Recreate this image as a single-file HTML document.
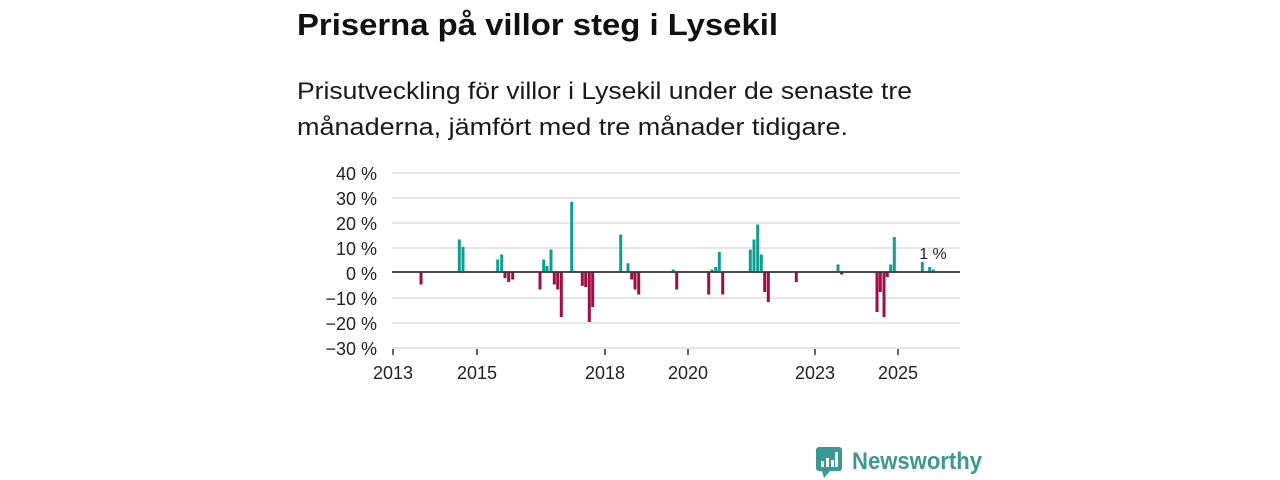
<!DOCTYPE html>
<html><head><meta charset="utf-8"><style>
html,body{margin:0;padding:0;background:#fff;width:1280px;height:480px;overflow:hidden}
svg{display:block}
text{font-family:"Liberation Sans",sans-serif}
</style></head><body>
<svg width="1280" height="480" viewBox="0 0 1280 480" xmlns="http://www.w3.org/2000/svg">
<text x="297" y="35" font-size="31" font-weight="bold" fill="#111" textLength="481" lengthAdjust="spacingAndGlyphs">Priserna på villor steg i Lysekil</text>
<text x="297" y="99" font-size="24" fill="#1a1a1a" textLength="615" lengthAdjust="spacingAndGlyphs">Prisutveckling för villor i Lysekil under de senaste tre</text>
<text x="297" y="135" font-size="24" fill="#1a1a1a" textLength="551" lengthAdjust="spacingAndGlyphs">månaderna, jämfört med tre månader tidigare.</text>
<g stroke="#dedede" stroke-width="1.5">
<line x1="392" x2="960" y1="173" y2="173"/><line x1="392" x2="960" y1="198" y2="198"/>
<line x1="392" x2="960" y1="223" y2="223"/><line x1="392" x2="960" y1="248" y2="248"/>
<line x1="392" x2="960" y1="298" y2="298"/><line x1="392" x2="960" y1="323" y2="323"/>
<line x1="392" x2="960" y1="348" y2="348"/>
</g>
<g font-size="18" fill="#222" text-anchor="end">
<text x="377" y="180">40 %</text><text x="377" y="205">30 %</text><text x="377" y="230">20 %</text>
<text x="377" y="255">10 %</text><text x="377" y="280">0 %</text><text x="377" y="305">−10 %</text>
<text x="377" y="330">−20 %</text><text x="377" y="355">−30 %</text>
</g>
<g id="bars"></g>
<line x1="392" x2="960" y1="272" y2="272" stroke="#333" stroke-width="1.5"/>
<g stroke="#333" stroke-width="1.5">
<line x1="393" x2="393" y1="349" y2="355"/><line x1="477" x2="477" y1="349" y2="355"/>
<line x1="605" x2="605" y1="349" y2="355"/><line x1="688" x2="688" y1="349" y2="355"/>
<line x1="815" x2="815" y1="349" y2="355"/><line x1="898" x2="898" y1="349" y2="355"/>
</g>
<g font-size="18" fill="#222" text-anchor="middle">
<text x="393" y="379">2013</text><text x="477" y="379">2015</text><text x="605" y="379">2018</text>
<text x="688" y="379">2020</text><text x="815" y="379">2023</text><text x="898" y="379">2025</text>
</g>
<text x="933" y="259" font-size="16" fill="#222" text-anchor="middle">1 %</text>
<g transform="translate(816,447)">
<rect x="0" y="0" width="26" height="24" rx="3" fill="#3a9a93"/>
<polygon points="6,24 14,24 8,31" fill="#3a9a93"/>
<rect x="5" y="14" width="3" height="6" fill="#fff"/><rect x="10" y="11" width="3" height="9" fill="#fff"/>
<rect x="15" y="13" width="3" height="7" fill="#fff"/><rect x="19" y="5" width="3" height="15" fill="#fff"/>
</g>
<text x="852" y="469" font-size="24" font-weight="bold" fill="#3a9a93" textLength="130" lengthAdjust="spacingAndGlyphs">Newsworthy</text>
<g>
<script>/*static*/</script>
</g>
<g fill="#0e9e92">
<rect x="457.8" y="239.5" width="3" height="32.5"/><rect x="461.5" y="247" width="3" height="25"/>
<rect x="496.2" y="259.5" width="3" height="12.5"/><rect x="500.2" y="254.5" width="3" height="17.5"/>
<rect x="542.2" y="259.5" width="3" height="12.5"/><rect x="545.5" y="265.8" width="3" height="6.2"/>
<rect x="549.5" y="249.5" width="3" height="22.5"/><rect x="570.2" y="202" width="3" height="70"/>
<rect x="619.2" y="234.5" width="3" height="37.5"/><rect x="626.5" y="263.2" width="3" height="8.8"/>
<rect x="671.8" y="269.5" width="3" height="2.5"/><rect x="710.5" y="269.5" width="3" height="2.5"/>
<rect x="714.2" y="267" width="3" height="5"/><rect x="717.8" y="252" width="3" height="20"/>
<rect x="748.8" y="249.5" width="3" height="22.5"/><rect x="752.5" y="239.5" width="3" height="32.5"/>
<rect x="756.2" y="224.5" width="3" height="47.5"/><rect x="759.8" y="254.5" width="3" height="17.5"/>
<rect x="836.5" y="264.5" width="3" height="7.5"/><rect x="889.2" y="264.5" width="3" height="7.5"/>
<rect x="892.8" y="237" width="3" height="35"/><rect x="920.8" y="262" width="3" height="10"/>
<rect x="928.2" y="267" width="3" height="5"/><rect x="931.8" y="269.5" width="3" height="2.5"/>
</g>
<g fill="#a10d45">
<rect x="419.5" y="272" width="3" height="12.5"/><rect x="503.5" y="272" width="3" height="6.2"/>
<rect x="507.2" y="272" width="3" height="10"/><rect x="511.2" y="272" width="3" height="7.5"/>
<rect x="538.5" y="272" width="3" height="17.5"/><rect x="552.8" y="272" width="3" height="12.5"/>
<rect x="556.2" y="272" width="3" height="17.5"/><rect x="559.8" y="272" width="3" height="45"/>
<rect x="580.8" y="272" width="3" height="13.8"/><rect x="584.2" y="272" width="3" height="15"/>
<rect x="587.8" y="272" width="3" height="50"/><rect x="591.2" y="272" width="3" height="35"/>
<rect x="630.2" y="272" width="3" height="7.5"/><rect x="633.5" y="272" width="3" height="17.5"/>
<rect x="637.2" y="272" width="3" height="22.5"/><rect x="675.2" y="272" width="3" height="17.5"/>
<rect x="707.2" y="272" width="3" height="22.5"/><rect x="721.2" y="272" width="3" height="22.5"/>
<rect x="763.2" y="272" width="3" height="20"/><rect x="766.8" y="272" width="3" height="30"/>
<rect x="794.8" y="272" width="3" height="10"/><rect x="840.2" y="272" width="3" height="2.5"/>
<rect x="875.5" y="272" width="3" height="40"/><rect x="878.8" y="272" width="3" height="20"/>
<rect x="882.5" y="272" width="3" height="45"/><rect x="885.8" y="272" width="3" height="5"/>
</g>
<line x1="392" x2="960" y1="272" y2="272" stroke="#333" stroke-width="1.5"/>
</svg>
</body></html>
